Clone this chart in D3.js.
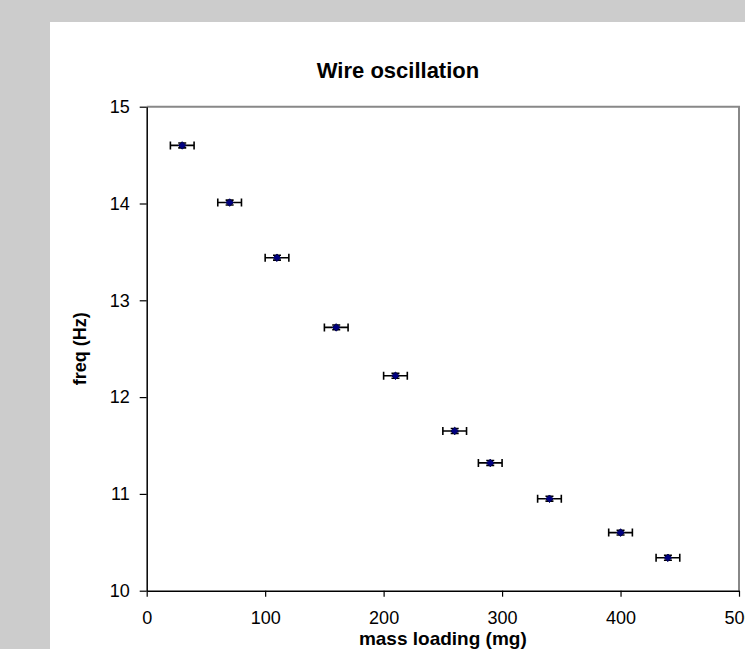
<!DOCTYPE html>
<html>
<head>
<meta charset="utf-8">
<script src="https://cdn.jsdelivr.net/npm/d3@7"></script>
<style>
  body { margin: 0; background: #cccccc; }
  svg { display: block; }
  text { font-family: "Liberation Sans", Arial, sans-serif; }
</style>
</head>
<body>
<div id="graph"></div>
<script>
// Data
const mass = [30, 70, 110, 160, 210, 260, 290, 340, 400, 440];        // mg
const freq = [14.60, 14.01, 13.44, 12.72, 12.22, 11.65, 11.32, 10.95, 10.60, 10.34]; // Hz
const massErr = [10, 10, 10, 10, 10, 10, 10, 10, 10, 10];
const freqErr = [0.025, 0.025, 0.025, 0.025, 0.025, 0.025, 0.025, 0.025, 0.025, 0.025];
const xTicks = [0, 100, 200, 300, 400, 500];
const yTicks = [10, 11, 12, 13, 14, 15];

const W = 745, H = 649;
const margin = {top: 106.7, right: 6, bottom: 58.3, left: 146.7};
const width = W - margin.left - margin.right;
const height = H - margin.top - margin.bottom;

const svg = d3.select("#graph").append("svg")
  .attr("width", W)
  .attr("height", H);

// white chart area
svg.append("rect")
  .attr("x", 50).attr("y", 22)
  .attr("width", W - 50).attr("height", H - 22)
  .attr("fill", "#ffffff");

const graph = svg.append("g")
  .attr("transform", "translate(" + margin.left + "," + margin.top + ")");

const x = d3.scaleLinear([0, 500], [0, width]);
const y = d3.scaleLinear([10, 15], [height, 0]);

// plot border (top / right are grey)
graph.append("path")
  .attr("d", "M0,0H" + width + "V" + height)
  .attr("fill", "none")
  .attr("stroke", "#888888")
  .attr("stroke-width", 2);

// axes
const xAxis = graph.append("g")
  .attr("transform", "translate(0," + height + ")")
  .call(d3.axisBottom(x).tickValues(xTicks).tickFormat(d3.format("d"))
    .tickSize(6).tickPadding(15).tickSizeOuter(0));
const yAxis = graph.append("g")
  .call(d3.axisLeft(y).tickValues(yTicks).tickFormat(d3.format("d"))
    .tickSize(7).tickPadding(10).tickSizeOuter(0));

[xAxis, yAxis].forEach(a => {
  a.select(".domain").attr("stroke", "#000").attr("stroke-width", 1.5);
  a.selectAll(".tick line").attr("stroke", "#000").attr("stroke-width", 1.2);
  a.selectAll(".tick text")
    .attr("fill", "#000")
    .style("font-size", "18px")
    .style("font-family", "'Liberation Sans', Arial, sans-serif");
});

const pts = mass.map((m, i) => ({m: m, f: freq[i], dm: massErr[i], df: freqErr[i]}));

// error bars
const eb = graph.append("g").attr("stroke", "#000").attr("stroke-width", 1.6).attr("fill", "none");
pts.forEach(d => {
  const cx = x(d.m), cy = y(d.f);
  const x0 = x(d.m - d.dm), x1 = x(d.m + d.dm);
  const y0 = y(d.f + d.df), y1 = y(d.f - d.df);
  eb.append("path")
    .attr("d", "M" + x0 + "," + cy + "H" + x1 +
      "M" + x0 + "," + (cy - 4) + "V" + (cy + 4) +
      "M" + x1 + "," + (cy - 4) + "V" + (cy + 4) +
      "M" + cx + "," + y0 + "V" + y1 +
      "M" + (cx - 4) + "," + y0 + "H" + (cx + 4) +
      "M" + (cx - 4) + "," + y1 + "H" + (cx + 4));
});

// markers (navy diamonds)
graph.selectAll("path.pt")
  .data(pts)
  .enter()
  .append("path")
  .attr("class", "pt")
  .attr("transform", d => "translate(" + x(d.m) + "," + y(d.f) + ")")
  .attr("d", d3.symbol(d3.symbolDiamond2, 36))
  .attr("fill", "#000080")
  .attr("stroke", "#000050")
  .attr("stroke-width", 1);

// titles
svg.append("text")
  .attr("x", 398)
  .attr("y", 78)
  .attr("text-anchor", "middle")
  .style("font-size", "22px")
  .style("font-weight", "bold")
  .text("Wire oscillation");

svg.append("text")
  .attr("x", margin.left + width / 2)
  .attr("y", 645)
  .attr("text-anchor", "middle")
  .style("font-size", "19px")
  .style("font-weight", "bold")
  .text("mass loading (mg)");

svg.append("text")
  .attr("transform", "translate(86," + (margin.top + height / 2) + ") rotate(-90)")
  .attr("text-anchor", "middle")
  .style("font-size", "18px")
  .style("font-weight", "bold")
  .text("freq (Hz)");
</script>
</body>
</html>
